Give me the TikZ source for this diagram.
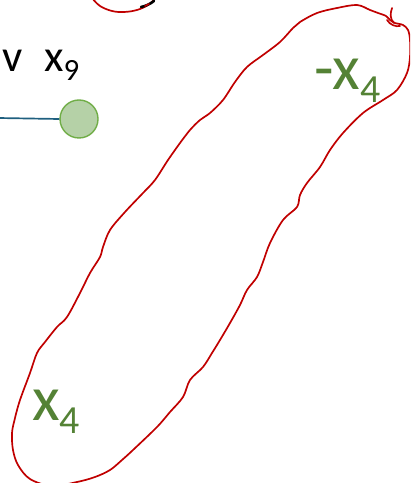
\documentclass[tikz,border=0pt]{standalone}
\usepackage{fontspec}
\setmainfont{Carlito}[Numbers=Lining]
\definecolor{loopred}{HTML}{C00000}
\definecolor{xgreen}{HTML}{548235}
\definecolor{nodefill}{HTML}{B5D1A7}
\definecolor{nodedraw}{HTML}{70AD47}
\definecolor{edgeblue}{HTML}{1F5F7F}
\tikzset{
  inkline/.style={draw=loopred, line width=1.7pt, line join=round, line cap=round},
  vlabel/.style={inner sep=0pt, anchor=base west, text=black},
  glabel/.style={inner sep=0pt, anchor=base west, text=xgreen},
  vertex/.style={circle, draw=nodedraw, line width=1.4pt, fill=nodefill, minimum size=38bp, inner sep=0pt}
}
\begin{document}
\begin{tikzpicture}[x=1bp, y=-1bp]
\useasboundingbox (0,0) rectangle (410,483);
\begin{scope}
\clip (0,0) rectangle (410,483);
% vertex and edge
\node[vertex] (x9) at (79,119) {};
\coordinate (edgeL) at (-2,118);
\draw[edgeblue, line width=1.7pt] (edgeL) -- (x9.west);
% labels
\node[vlabel] (lv) at (2,72) {\fontsize{45}{45}\selectfont v};
\node[vlabel] (lx9) at (44,72) {\fontsize{45}{45}\selectfont x\raisebox{-9bp}{\fontsize{31}{31}\selectfont 9}};
\node[glabel] (mx4) at (314,90) {\fontsize{64}{64}\selectfont -x\raisebox{-13bp}{\fontsize{40}{40}\selectfont 4}};
\node[glabel] (px4) at (32,420) {\fontsize{64}{64}\selectfont x\raisebox{-13bp}{\fontsize{40}{40}\selectfont 4}};
% partial loop at the top
\draw[inkline] plot[smooth, tension=0.6] coordinates {(92,-2) (100,6) (112,11) (124,12) (137,10) (148,5) (156,-2)};
\draw[black, line width=2.6pt, line cap=round] (141,7) .. controls (146,6) and (150,4) .. (154,1);
\draw[inkline] (145,6) -- (149,4);
% big loop
\draw[inkline] plot[smooth, tension=0.55] coordinates {
(180,143) (168,160) (155,180) (143,193) (125,212) (110,230) (103,247) (100,257) (90,273) (80,293) (67,317) (57,327)
(45,342) (37,353) (30,373) (20,400) (15,418) (12,433) (13,450) (18,465) (30,479) (52,486) (77,482) (95,477) (110,470)
(122,460) (133,450) (157,427) (170,412) (183,397) (190,380) (203,367) (212,353) (220,340) (230,323) (240,305) (247,290)
(257,277) (263,262) (270,243) (283,220) (297,207) (300,195) (307,183) (320,167) (330,150) (343,133) (363,113) (383,100)
(397,90) (407,73) (410,57) (410,40) (408,30) (403,25) (395,23) (390,20) (386,16) (378,13)
(370,10) (357,5) (337,8) (317,13) (300,22) (293,28) (280,42) (263,55) (247,67) (235,82) (223,100) (210,113) (200,120)
(190,130) (180,143)};
\draw[inkline] (392,8) .. controls (390,14) and (390,19) .. (394,23);
\draw[inkline] (387,20) .. controls (390,25) and (396,27) .. (400,26);
\end{scope}
\end{tikzpicture}
\end{document}
